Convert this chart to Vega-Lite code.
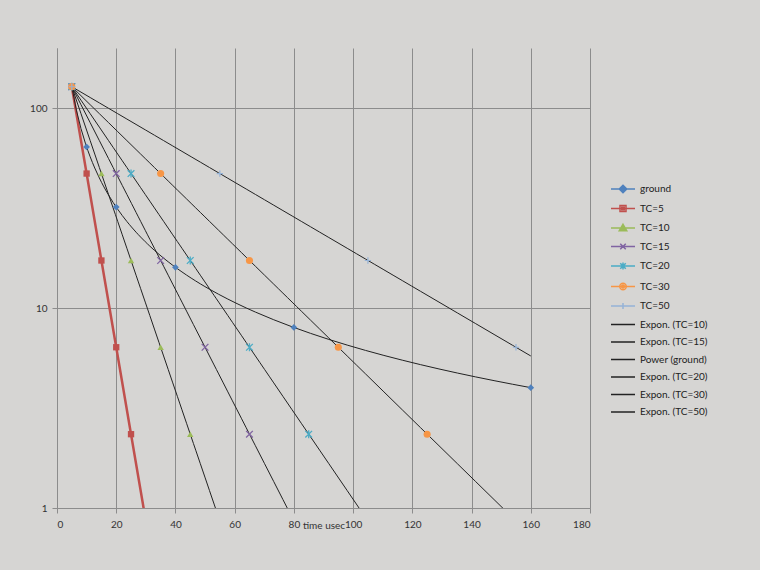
{
  "$schema": "https://vega.github.io/schema/vega-lite/v6.json",
  "description": "Decay curves on a log scale: ground data with a power trend and TC series with exponential trends.",
  "autosize": "none",
  "width": 533,
  "height": 460,
  "padding": {"left": 57, "top": 48, "right": 170, "bottom": 62},
  "background": "#d6d5d3",
  "config": {
    "view": {"stroke": null},
    "font": "Lato",
    "axis": {
      "gridColor": "#8c8c8c", "gridWidth": 1, "domainColor": "#8c8c8c", "tickColor": "#8c8c8c",
      "tickSize": 5, "labelFont": "Lato", "labelFontSize": 10, "labelColor": "#333333",
      "titleFont": "Lato", "titleFontSize": 10, "titleFontWeight": "normal", "titleColor": "#333333"
    },
    "legend": {
      "title": null, "orient": "none", "legendX": 560, "legendY": 135,
      "labelFont": "Lato", "labelFontSize": 10, "labelColor": "#222222",
      "symbolSize": 100, "symbolStrokeWidth": 1.5, "labelOffset": 11, "rowPadding": 6.5
    }
  },
  "datasets": {
    "pts": [
      {"series": "ground", "t": 5, "v": 128}, {"series": "ground", "t": 10, "v": 64},
      {"series": "ground", "t": 20, "v": 32}, {"series": "ground", "t": 40, "v": 16},
      {"series": "ground", "t": 80, "v": 8}, {"series": "ground", "t": 160, "v": 4},
      {"series": "TC=5", "t": 5, "v": 128}, {"series": "TC=5", "t": 10, "v": 47.1},
      {"series": "TC=5", "t": 15, "v": 17.3}, {"series": "TC=5", "t": 20, "v": 6.37},
      {"series": "TC=5", "t": 25, "v": 2.34}, {"series": "TC=5", "t": 30, "v": 0.86},
      {"series": "TC=10", "t": 5, "v": 128}, {"series": "TC=10", "t": 15, "v": 47.1},
      {"series": "TC=10", "t": 25, "v": 17.3}, {"series": "TC=10", "t": 35, "v": 6.37},
      {"series": "TC=10", "t": 45, "v": 2.34},
      {"series": "TC=15", "t": 5, "v": 128}, {"series": "TC=15", "t": 20, "v": 47.1},
      {"series": "TC=15", "t": 35, "v": 17.3}, {"series": "TC=15", "t": 50, "v": 6.37},
      {"series": "TC=15", "t": 65, "v": 2.34},
      {"series": "TC=20", "t": 5, "v": 128}, {"series": "TC=20", "t": 25, "v": 47.1},
      {"series": "TC=20", "t": 45, "v": 17.3}, {"series": "TC=20", "t": 65, "v": 6.37},
      {"series": "TC=20", "t": 85, "v": 2.34},
      {"series": "TC=30", "t": 5, "v": 128}, {"series": "TC=30", "t": 35, "v": 47.1},
      {"series": "TC=30", "t": 65, "v": 17.3}, {"series": "TC=30", "t": 95, "v": 6.37},
      {"series": "TC=30", "t": 125, "v": 2.34},
      {"series": "TC=50", "t": 5, "v": 128}, {"series": "TC=50", "t": 55, "v": 47.1},
      {"series": "TC=50", "t": 105, "v": 17.3}, {"series": "TC=50", "t": 155, "v": 6.37}
    ]
  },
  "data": {"name": "pts"},
  "encoding": {
    "x": {"field": "t", "type": "quantitative", "scale": {"domain": [0, 180], "nice": false},
      "axis": {"values": [0, 20, 40, 60, 80, 100, 120, 140, 160, 180], "grid": true, "title": "time usec",
        "labelPadding": 6, "titleY": 17, "titleBaseline": "middle"}},
    "y": {"field": "v", "type": "quantitative", "scale": {"type": "log", "domain": [1, 200], "nice": false},
      "axis": {"values": [1, 10, 100], "format": "d", "grid": true, "title": null, "labelPadding": 5}}
  },
  "layer": [
    {
      "transform": [{"filter": "datum.series == 'TC=5'"}],
      "mark": {"type": "line", "color": "#c0504d", "strokeWidth": 2.5, "clip": true}
    },
    {
      "transform": [
        {"filter": "indexof(['TC=10', 'TC=15', 'TC=20', 'TC=30', 'TC=50'], datum.series) >= 0"},
        {"regression": "v", "on": "t", "groupby": ["series"], "method": "exp", "extent": [5, 160]}
      ],
      "mark": {"type": "line", "color": "#222222", "strokeWidth": 1, "clip": true},
      "encoding": {"detail": {"field": "series"}}
    },
    {
      "transform": [
        {"filter": "datum.series == 'ground'"},
        {"regression": "v", "on": "t", "method": "pow", "extent": [5, 160]}
      ],
      "mark": {"type": "line", "color": "#222222", "strokeWidth": 1, "clip": true}
    },
    {
      "transform": [{"filter": "datum.series == 'ground'"}],
      "mark": {"type": "point", "shape": "diamond", "filled": true, "color": "#4f81bd", "opacity": 1, "size": 45, "clip": true}
    },
    {
      "transform": [{"filter": "datum.series == 'TC=5'"}],
      "mark": {"type": "point", "shape": "square", "filled": true, "color": "#c0504d", "opacity": 1, "size": 40, "clip": true}
    },
    {
      "transform": [{"filter": "datum.series == 'TC=10'"}],
      "mark": {"type": "point", "shape": "triangle-up", "filled": true, "color": "#9bbb59", "opacity": 1, "size": 40, "clip": true}
    },
    {
      "transform": [{"filter": "datum.series == 'TC=15'"}],
      "mark": {"type": "point", "shape": "M-1,-1L1,1M-1,1L1,-1", "filled": false, "color": "#8064a2", "opacity": 1, "size": 45, "strokeWidth": 1.3, "clip": true}
    },
    {
      "transform": [{"filter": "datum.series == 'TC=20'"}],
      "mark": {"type": "point", "shape": "M-1,-1L1,1M-1,1L1,-1M0,-1.2V1.2", "filled": false, "color": "#4bacc6", "opacity": 1, "size": 45, "strokeWidth": 1.3, "clip": true}
    },
    {
      "transform": [{"filter": "datum.series == 'TC=30'"}],
      "mark": {"type": "point", "shape": "circle", "filled": true, "color": "#f79646", "opacity": 1, "size": 50, "clip": true}
    },
    {
      "transform": [{"filter": "datum.series == 'TC=50'"}],
      "mark": {"type": "point", "shape": "M-1,0H1M0,-1V1", "filled": false, "color": "#95b3d7", "opacity": 1, "size": 40, "strokeWidth": 1.2, "clip": true}
    },
    {
      "transform": [{"filter": "datum.t < 0"}],
      "mark": {"type": "point", "filled": false, "opacity": 1, "strokeWidth": 1.5},
      "encoding": {
        "color": {
          "field": "series", "type": "nominal",
          "scale": {
            "domain": ["ground", "TC=5", "TC=10", "TC=15", "TC=20", "TC=30", "TC=50",
              "Expon. (TC=10)", "Expon. (TC=15)", "Power (ground)", "Expon. (TC=20)", "Expon. (TC=30)", "Expon. (TC=50)"],
            "range": ["#4f81bd", "#c0504d", "#9bbb59", "#8064a2", "#4bacc6", "#f79646", "#95b3d7",
              "#222222", "#222222", "#222222", "#222222", "#222222", "#222222"]
          }
        },
        "shape": {
          "field": "series", "type": "nominal",
          "scale": {
            "domain": ["ground", "TC=5", "TC=10", "TC=15", "TC=20", "TC=30", "TC=50",
              "Expon. (TC=10)", "Expon. (TC=15)", "Power (ground)", "Expon. (TC=20)", "Expon. (TC=30)", "Expon. (TC=50)"],
            "range": [
              "M-2.4,0H2.4M0,-0.75L0.75,0L0,0.75L-0.75,0ZM0,-0.4L0.4,0L0,0.4L-0.4,0Z",
              "M-2.4,0H2.4M-0.6,-0.6H0.6V0.6H-0.6ZM-0.25,-0.25H0.25V0.25H-0.25Z",
              "M-2.4,0H2.4M0,-0.75L0.75,0.55H-0.75ZM0,-0.3L0.3,0.25H-0.3Z",
              "M-2.4,0H2.4M-0.55,-0.55L0.55,0.55M-0.55,0.55L0.55,-0.55",
              "M-2.4,0H2.4M-0.55,-0.55L0.55,0.55M-0.55,0.55L0.55,-0.55M0,-0.7V0.7",
              "M-2.4,0H2.4M0.65,0A0.65,0.65,0,1,1,-0.65,0A0.65,0.65,0,1,1,0.65,0ZM0.3,0A0.3,0.3,0,1,1,-0.3,0A0.3,0.3,0,1,1,0.3,0Z",
              "M-2.4,0H2.4M0,-0.6V0.6",
              "M-2.4,0H2.4", "M-2.4,0H2.4", "M-2.4,0H2.4", "M-2.4,0H2.4", "M-2.4,0H2.4", "M-2.4,0H2.4"
            ]
          }
        }
      }
    }
  ]
}
